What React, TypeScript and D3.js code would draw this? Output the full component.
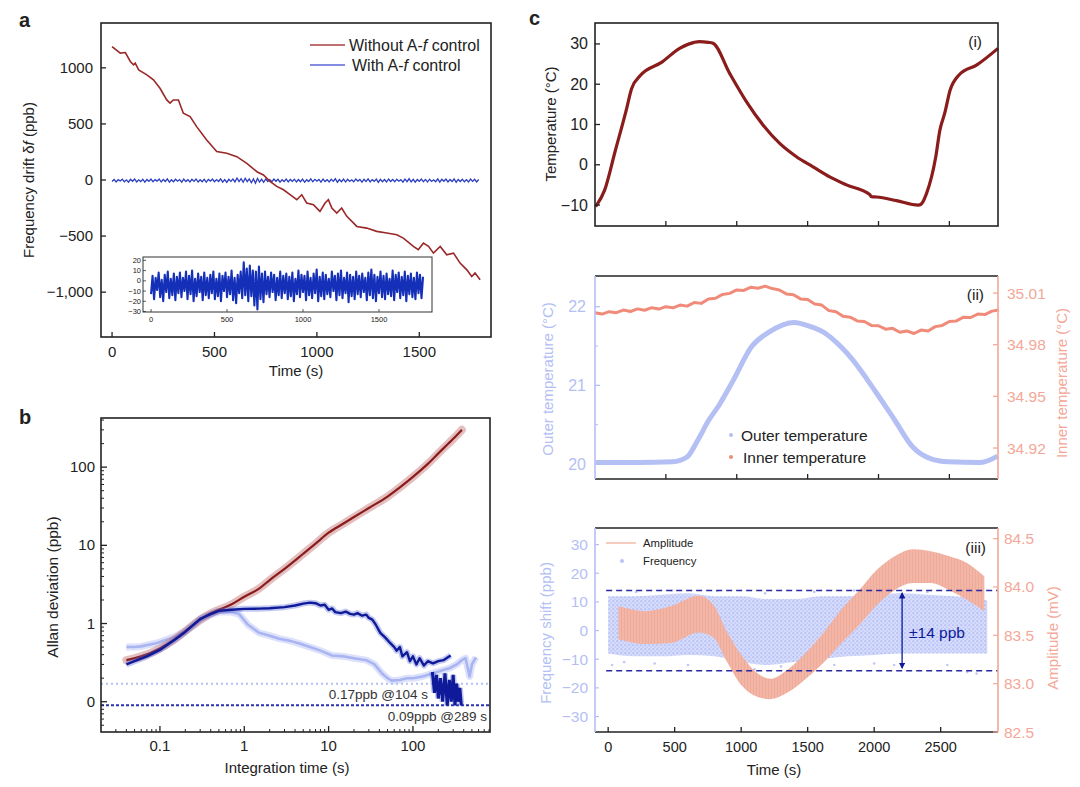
import * as d3 from "d3";

const FONT = "'Liberation Sans', Arial, Helvetica, sans-serif";
const INK = "#222";
const DARK_RED = "#8b1c1c";
const DARK_BLUE = "#0e1a99";
const LIGHT_BLUE = "#b4bff4";
const SALMON = "#f3a898";

// ---- a: frequency drift ----
const driftTime = [0, 40, 65, 89, 105, 113, 130, 170, 202, 234, 267, 283, 299, 324, 348, 381, 413, 462, 511, 560, 609, 658, 707, 739, 771, 804, 837, 869, 902, 926, 950, 983, 1015, 1040, 1056, 1073, 1097, 1121, 1146, 1195, 1243, 1292, 1341, 1390, 1422, 1471, 1495, 1520, 1545, 1569, 1602, 1634, 1667, 1699, 1732, 1756, 1772, 1797];
const driftWithout = [1190, 1131, 1137, 1057, 1027, 1042, 982, 938, 893, 818, 714, 685, 714, 714, 595, 565, 476, 357, 253, 238, 208, 149, 74, 45, -12, -57, -87, -131, -176, -131, -205, -220, -280, -205, -176, -250, -295, -250, -324, -414, -429, -458, -473, -488, -518, -592, -622, -563, -592, -652, -592, -667, -652, -741, -801, -860, -830, -890];
const withTime = d3.range(0, 1800, 10);
const driftWith = [
  -13, 5, -18, 3, -9, 8, -16, 1, -20, 6,
  -11, 9, -17, 2, -14, 7, -19, 4, -12, 8,
  -16, 3, -10, 9, -18, 5, -13, 10, -20, 2,
  -15, 7, -11, 4, -19, 8, -14, 3, -17, 6,
  -12, 9, -18, 2, -15, 7, -20, 5, -10, 8,
  -16, 4, -13, 10, -19, 3, -22, 6, -12, 9,
  -17, 18, -14, 12, -20, 15, -15, 10, -24, 9,
  -28, 14, -18, 7, -21, 9, -13, 4, -16, 8,
  -11, 6, -19, 3, -14, 9, -17, 5, -12, 7,
  -18, 4, -15, 8, -20, 2, -13, 10, -16, 6,
  -11, 5, -19, 9, -14, 3, -17, 7, -12, 11,
  -20, 4, -15, 8, -18, 6, -13, 2, -16, 9,
  -10, 5, -19, 7, -14, 10, -17, 3, -12, 8,
  -21, 6, -15, 4, -18, 9, -13, 5, -16, 7,
  -11, 3, -19, 8, -14, 11, -17, 6, -20, 4,
  -12, 9, -16, 5, -18, 7, -13, 2, -15, 10,
  -19, 6, -11, 8, -17, 4, -14, 9, -20, 5,
  -13, 7, -16, 3, -18, 8, -12, 6, -17, 4,
];
const aYTicks = [1000, 500, 0, -500, -1000];
const aYLabels = ["1000", "500", "0", "\u2212500", "\u22121,000"];
const aXTicks = [0, 500, 1000, 1500];
const insetYTicks = [20, 10, 0, -10, -20, -30];
const insetYLabels = ["20", "10", "0", "\u221210", "\u221220", "\u221230"];
const insetXTicks = [0, 500, 1000, 1500];

// ---- b: Allan deviation ----
const tauRed = [0.04, 0.06, 0.1, 0.15, 0.2, 0.3, 0.4, 0.5, 0.7, 1, 1.5, 2, 3, 5, 7, 10, 15, 20, 30, 50, 70, 100, 150, 200, 300, 380];
const adevRed = [0.34, 0.38, 0.48, 0.63, 0.8, 1.12, 1.35, 1.5, 1.75, 2.2, 2.8, 3.6, 5, 7.8, 10.5, 14.5, 19, 23, 30, 42, 55, 75, 110, 150, 230, 300];
const tauDark = [0.04, 0.05, 0.07, 0.1, 0.15, 0.2, 0.3, 0.4, 0.5, 0.7, 1, 1.5, 2, 3, 4, 5, 6, 7, 8, 9, 10, 11, 12, 14, 16, 18, 20, 22, 25, 28, 30, 33, 36, 41, 47, 54, 60, 64, 70, 75, 85, 92, 100, 110, 120, 135, 150, 173, 200, 230, 260, 280];
const adevDark = [0.3, 0.33, 0.38, 0.46, 0.62, 0.78, 1.15, 1.32, 1.45, 1.5, 1.54, 1.55, 1.57, 1.62, 1.7, 1.8, 1.85, 1.82, 1.7, 1.74, 1.5, 1.56, 1.4, 1.36, 1.42, 1.33, 1.3, 1.36, 1.26, 1.3, 1.18, 1.12, 0.98, 0.76, 0.66, 0.56, 0.5, 0.45, 0.5, 0.38, 0.43, 0.33, 0.38, 0.3, 0.36, 0.29, 0.33, 0.31, 0.33, 0.34, 0.37, 0.39];
const tauDrop = [170, 180, 190, 200, 212, 225, 240, 255, 270, 285, 300, 315, 330, 345, 360, 375];
const adevDrop = [0.24, 0.13, 0.22, 0.11, 0.2, 0.1, 0.23, 0.09, 0.19, 0.1, 0.22, 0.09, 0.17, 0.1, 0.15, 0.09];
const tauLight = [0.04, 0.05, 0.06, 0.076, 0.09, 0.1, 0.15, 0.2, 0.3, 0.4, 0.5, 0.7, 0.87, 1.1, 1.5, 2, 2.6, 3.5, 4.6, 6, 8, 11, 15, 20, 28, 35, 43, 50, 56, 70, 85, 100, 130, 170, 220, 275, 330, 380, 420, 450, 470, 500, 560];
const adevLight = [0.5, 0.5, 0.51, 0.54, 0.56, 0.58, 0.68, 0.8, 1.08, 1.3, 1.4, 1.4, 1.32, 0.97, 0.76, 0.7, 0.64, 0.6, 0.55, 0.5, 0.45, 0.39, 0.38, 0.36, 0.34, 0.3, 0.23, 0.2, 0.186, 0.19, 0.2, 0.2, 0.21, 0.23, 0.25, 0.27, 0.3, 0.34, 0.36, 0.26, 0.21, 0.3, 0.37];
const bMajor = [0.1, 1, 10, 100];
const bXLabels = ["0.1", "1", "10", "100"];
const bYLabels = ["0", "1", "10", "100"];

// ---- c(i): chamber temperature ----
const tempTime = [5, 68, 144, 220, 258, 321, 472, 597, 700, 738, 800, 832, 950, 1068, 1185, 1303, 1421, 1538, 1656, 1774, 1938, 1950, 1986, 2127, 2280, 2300, 2339, 2404, 2433, 2467, 2505, 2568, 2694, 2843];
const tempVal = [-10.4, -6.3, 3.6, 13.5, 18.9, 22.2, 25.5, 28.9, 30.4, 30.6, 30.4, 30.2, 22.7, 15.7, 9.9, 5.3, 2.0, -0.5, -3.0, -5.0, -7.4, -7.9, -8.0, -8.9, -10.0, -9.8, -7.1, 2, 8.6, 12.8, 18.5, 22.3, 24.8, 28.9];
const c1Ticks = [30, 20, 10, 0, -10];
const c1Labels = ["30", "20", "10", "0", "\u221210"];
const cXTicks = [500, 1000, 1500, 2000, 2500];

// ---- c(ii): outer / inner temperature ----
const outerTime = [5, 300, 548, 649, 724, 800, 876, 977, 1104, 1230, 1407, 1500, 1609, 1735, 1811, 1987, 2114, 2240, 2366, 2492, 2720, 2840];
const outerVal = [20.02, 20.02, 20.03, 20.09, 20.3, 20.55, 20.75, 21.07, 21.49, 21.68, 21.8, 21.76, 21.68, 21.49, 21.34, 20.9, 20.56, 20.22, 20.07, 20.03, 20.02, 20.1];
const innerTime = d3.range(0, 2851, 50);
const innerVal = [
  34.9985, 34.9978, 34.9992, 34.9986, 35.0001, 34.9993, 35.0008, 35.0, 35.0015, 35.0007,
  35.0021, 35.0014, 35.003, 35.0024, 35.0045, 35.004, 35.0065, 35.007, 35.0092, 35.0098,
  35.0118, 35.0115, 35.0134, 35.0128, 35.014, 35.0126, 35.0118, 35.0095, 35.009, 35.0066,
  35.0062, 35.0036, 35.003, 34.9998, 34.9992, 34.9965, 34.996, 34.9938, 34.9935, 34.9912,
  34.991, 34.989, 34.9895, 34.9872, 34.988, 34.9865, 34.9885, 34.988, 34.9905, 34.9912,
  34.9935, 34.9938, 34.996, 34.9958, 34.9978, 34.9975, 34.9995, 35.0002,
];
const outerTicks = [20, 21, 22];
const outerMinor = [20.5, 21.5];
const innerTicks = [34.92, 34.95, 34.98, 35.01];

// ---- c(iii): frequency shift / amplitude ----
const freqTime = [0, 200, 400, 600, 800, 1000, 1200, 1400, 1600, 1800, 2000, 2200, 2400, 2600, 2800, 2850];
const freqLo = [-8, -9, -9, -8.5, -9, -11, -12, -11, -10, -9, -8.5, -8, -8, -8, -8, -8];
const freqHi = [12, 12, 12.5, 13, 12, 12, 11, 11, 12, 12, 12.5, 13, 12.5, 12, 11, 10.5];
const freqOutT = [30, 120, 210, 350, 480, 600, 820, 950, 1100, 1180, 1300, 1450, 1550, 1700, 1850, 2000, 2150, 2400, 2550, 2700, 2770];
const freqOutV = [-12, -11, 13.5, -11.5, 14, -12, 13.8, -13, -13.5, 13, -12.5, -13, 13.5, -12, 14, -11.5, -12, 13.5, -12, -14.5, -15];
const ampTime = [78, 279, 467, 682, 789, 896, 1004, 1111, 1218, 1352, 1487, 1621, 1755, 1889, 2023, 2157, 2292, 2425, 2560, 2694, 2828];
const ampLo = [83.46, 83.41, 83.42, 83.53, 83.48, 83.22, 82.98, 82.87, 82.84, 82.91, 83.05, 83.22, 83.42, 83.61, 83.82, 83.97, 84.04, 84.04, 83.97, 83.87, 83.75];
const ampHi = [83.8, 83.75, 83.8, 83.91, 83.82, 83.53, 83.29, 83.12, 83.05, 83.15, 83.32, 83.53, 83.77, 83.97, 84.18, 84.32, 84.39, 84.37, 84.32, 84.25, 84.11];
const freqTicks = [30, 20, 10, 0, -10, -20, -30];
const freqLabels = ["30", "20", "10", "0", "\u221210", "\u221220", "\u221230"];
const ampTicks = [82.5, 83.0, 83.5, 84.0, 84.5];
const c3XTicks = [0, 500, 1000, 1500, 2000, 2500];
const freqBound = 14;

type Scale = (v: number) => number;

function linePath(xs: number[], ys: number[], sx: Scale, sy: Scale, curve: d3.CurveFactory = d3.curveLinear) {
  return (
    d3
      .line<number>()
      .x((i) => sx(xs[i]))
      .y((i) => sy(ys[i]))
      .curve(curve)(xs.map((_, i) => i)) ?? ""
  );
}

function bandPath(xs: number[], lo: number[], hi: number[], sx: Scale, sy: Scale) {
  return (
    d3
      .area<number>()
      .x((i) => sx(xs[i]))
      .y0((i) => sy(lo[i]))
      .y1((i) => sy(hi[i]))
      .curve(d3.curveMonotoneX)(xs.map((_, i) => i)) ?? ""
  );
}

function logMinor(lo: number, hi: number) {
  const out: number[] = [];
  for (let e = -3; e <= 3; e++) {
    for (let m = 2; m <= 9; m++) {
      const v = m * Math.pow(10, e);
      if (v > lo && v < hi) out.push(v);
    }
  }
  return out;
}

export default function App() {
  // panel a
  const xA = d3.scaleLinear().domain([-54, 1850]).range([101, 491]);
  const yA = d3.scaleLinear().domain([-1400, 1400]).range([337, 23]);
  const xI = d3.scaleLinear().domain([-53, 1849]).range([143, 432]);
  const yI = d3.scaleLinear().domain([-30.5, 23.3]).range([312, 257]);
  // panel b
  const xB = d3.scaleLog().domain([0.02, 820]).range([101, 490]);
  const yB = d3.scaleLog().domain([0.041, 425]).range([732, 418]);
  // panel c
  const cL = 595;
  const cR = 998;
  const xC = d3.scaleLinear().domain([0, 2843]).range([cL, cR]);
  const yC1 = d3.scaleLinear().domain([-15.2, 35.2]).range([226, 23]);
  const yC2L = d3.scaleLinear().domain([19.81, 22.39]).range([479, 276]);
  const yC2R = d3.scaleLinear().domain([34.902, 35.0199]).range([479, 276]);
  const xC3 = d3.scaleLinear().domain([-99, 2931]).range([cL, cR]);
  const yC3L = d3.scaleLinear().domain([-35.4, 35.8]).range([732, 528]);
  const yC3R = d3.scaleLinear().domain([82.5, 84.61]).range([732, 528]);

  const bXMinor = logMinor(0.02, 820);
  const bYMinor = logMinor(0.041, 425);

  const [a0, a1] = xA.range();
  const [aB, aT] = yA.range();
  const [b0, b1] = xB.range();
  const [bB, bT] = yB.range();

  return (
    <svg
      width={1080}
      height={787}
      style={{ position: "absolute", left: 0, top: 0, background: "#fff" }}
      fontFamily={FONT}
      fill={INK}
    >
      <defs>
        <marker id="arrowHead" viewBox="0 0 10 10" refX="8" refY="5" markerWidth="5" markerHeight="5" orient="auto-start-reverse">
          <path d="M0,0 L10,5 L0,10 z" fill={DARK_BLUE} />
        </marker>
        <clipPath id="clipB">
          <rect x={b0} y={bT} width={b1 - b0} height={bB - bT} />
        </clipPath>
        <pattern id="freqDots" width="4" height="4" patternUnits="userSpaceOnUse">
          <rect width="4" height="4" fill="#d6dcfb" />
          <circle cx="1.2" cy="1.2" r="1.1" fill="#b9c2f6" />
          <circle cx="3.2" cy="3.2" r="0.9" fill="#c3cbf8" />
        </pattern>
        <pattern id="ampStripes" width="3" height="8" patternUnits="userSpaceOnUse">
          <rect width="3" height="8" fill="#f3b5a6" />
          <rect width="1" height="8" fill="#efab9a" />
        </pattern>
      </defs>

      {/* ================= panel a ================= */}
      <text x={19} y={27} fontSize={20} fontWeight="bold">a</text>
      <path d={linePath(withTime, driftWith, xA, yA)} fill="none" stroke="#2a3cc0" strokeWidth={1.3} />
      <path d={linePath(driftTime, driftWithout, xA, yA)} fill="none" stroke="#9a2828" strokeWidth={1.6} />
      <rect x={a0} y={aT} width={a1 - a0} height={aB - aT} fill="none" stroke={INK} strokeWidth={1.6} />
      {aYTicks.map((v, i) => (
        <g key={v}>
          <line x1={a0} x2={a0 + 5} y1={yA(v)} y2={yA(v)} stroke={INK} strokeWidth={1.3} />
          <text x={93} y={yA(v) + 5} textAnchor="end" fontSize={15}>{aYLabels[i]}</text>
        </g>
      ))}
      {aXTicks.map((v) => (
        <g key={v}>
          <line x1={xA(v)} x2={xA(v)} y1={aB} y2={aB - 5} stroke={INK} strokeWidth={1.3} />
          <text x={xA(v)} y={357} textAnchor="middle" fontSize={15}>{v}</text>
        </g>
      ))}
      <text x={296} y={376} textAnchor="middle" fontSize={15}>Time (s)</text>
      <text transform="translate(34,180) rotate(-90)" textAnchor="middle" fontSize={15}>
        Frequency drift δ<tspan fontStyle="italic">f</tspan> (ppb)
      </text>
      {/* legend */}
      <line x1={310} x2={345} y1={45} y2={45} stroke="#a84040" strokeWidth={1.4} />
      <text x={349} y={51} fontSize={16}>Without A-<tspan fontStyle="italic">f</tspan> control</text>
      <line x1={310} x2={345} y1={65} y2={65} stroke="#5a66d8" strokeWidth={1.4} />
      <text x={352} y={71} fontSize={16}>With A-<tspan fontStyle="italic">f</tspan> control</text>
      {/* inset */}
      <rect x={143} y={257} width={289} height={55} fill="#fff" stroke="#333" strokeWidth={1} />
      <path d={linePath(withTime, driftWith, xI, yI)} fill="none" stroke="#1530b8" strokeWidth={2.1} strokeLinejoin="round" />
      {insetYTicks.map((v, i) => (
        <g key={v}>
          <line x1={143} x2={146} y1={yI(v)} y2={yI(v)} stroke="#333" strokeWidth={0.8} />
          <text x={141} y={yI(v) + 2.5} textAnchor="end" fontSize={7.5}>{insetYLabels[i]}</text>
        </g>
      ))}
      {insetXTicks.map((v) => (
        <g key={v}>
          <line x1={xI(v)} x2={xI(v)} y1={312} y2={309} stroke="#333" strokeWidth={0.8} />
          <text x={xI(v)} y={322} textAnchor="middle" fontSize={7.5}>{v}</text>
        </g>
      ))}

      {/* ================= panel b ================= */}
      <text x={19} y={424} fontSize={20} fontWeight="bold">b</text>
      <g clipPath="url(#clipB)">
        <line x1={b0} x2={b1} y1={yB(0.17)} y2={yB(0.17)} stroke={LIGHT_BLUE} strokeWidth={2} strokeDasharray="2,3" />
        <line x1={b0} x2={b1} y1={yB(0.09)} y2={yB(0.09)} stroke="#2a33b0" strokeWidth={2} strokeDasharray="3,2" />
        <path d={linePath(tauLight, adevLight, xB, yB)} fill="none" stroke={LIGHT_BLUE} strokeOpacity={0.45} strokeWidth={7} strokeLinejoin="round" />
        <path d={linePath(tauLight, adevLight, xB, yB)} fill="none" stroke="#a9b5f2" strokeWidth={2.6} strokeLinejoin="round" />
        <path d={linePath(tauRed, adevRed, xB, yB, d3.curveMonotoneX)} fill="none" stroke="#c98080" strokeOpacity={0.5} strokeWidth={8} strokeLinecap="round" />
        <path d={linePath(tauRed, adevRed, xB, yB, d3.curveMonotoneX)} fill="none" stroke={DARK_RED} strokeWidth={2.2} />
        <path d={linePath(tauDark, adevDark, xB, yB)} fill="none" stroke="#5060d0" strokeOpacity={0.35} strokeWidth={6} strokeLinejoin="round" />
        <path d={linePath(tauDark, adevDark, xB, yB)} fill="none" stroke={DARK_BLUE} strokeWidth={2.4} strokeLinejoin="round" />
        <path d={linePath(tauDrop, adevDrop, xB, yB)} fill="none" stroke="#5060d0" strokeOpacity={0.35} strokeWidth={6} />
        <path d={linePath(tauDrop, adevDrop, xB, yB)} fill="none" stroke={DARK_BLUE} strokeWidth={3} />
      </g>
      <text x={428} y={699} textAnchor="end" fontSize={13.5} fill="#333">0.17ppb @104 s</text>
      <text x={487} y={721} textAnchor="end" fontSize={13.5} fill="#333">0.09ppb @289 s</text>
      <rect x={b0} y={bT} width={b1 - b0} height={bB - bT} fill="none" stroke={INK} strokeWidth={1.6} />
      {bXMinor.map((v) => (
        <line key={"bxm" + v} x1={xB(v)} x2={xB(v)} y1={bB} y2={bB - 3} stroke={INK} strokeWidth={1} />
      ))}
      {bYMinor.map((v) => (
        <line key={"bym" + v} x1={b0} x2={b0 + 3} y1={yB(v)} y2={yB(v)} stroke={INK} strokeWidth={1} />
      ))}
      {bMajor.map((v, i) => (
        <g key={"bM" + v}>
          <line x1={xB(v)} x2={xB(v)} y1={bB} y2={bB - 6} stroke={INK} strokeWidth={1.3} />
          <text x={xB(v)} y={751} textAnchor="middle" fontSize={15}>{bXLabels[i]}</text>
          <line x1={b0} x2={b0 + 6} y1={yB(v)} y2={yB(v)} stroke={INK} strokeWidth={1.3} />
          <text x={95} y={yB(v) + 5} textAnchor="end" fontSize={15}>{bYLabels[i]}</text>
        </g>
      ))}
      <text x={287} y={773} textAnchor="middle" fontSize={15}>Integration time (s)</text>
      <text transform="translate(58,587) rotate(-90)" textAnchor="middle" fontSize={15.5}>Allan deviation (ppb)</text>

      {/* ================= panel c(i) ================= */}
      <text x={529} y={25} fontSize={20} fontWeight="bold">c</text>
      <path d={linePath(tempTime, tempVal, xC, yC1, d3.curveMonotoneX)} fill="none" stroke={DARK_RED} strokeWidth={3.2} strokeLinejoin="round" />
      <rect x={cL} y={23} width={cR - cL} height={203} fill="none" stroke={INK} strokeWidth={1.6} />
      {c1Ticks.map((v, i) => (
        <g key={"c1" + v}>
          <line x1={cL} x2={cL + 5} y1={yC1(v)} y2={yC1(v)} stroke={INK} strokeWidth={1.3} />
          <text x={588} y={yC1(v) + 5.5} textAnchor="end" fontSize={16}>{c1Labels[i]}</text>
        </g>
      ))}
      {cXTicks.map((v) => (
        <line key={"c1x" + v} x1={xC(v)} x2={xC(v)} y1={226} y2={221} stroke={INK} strokeWidth={1.3} />
      ))}
      <text x={982} y={47} textAnchor="end" fontSize={15.5}>(i)</text>
      <text transform="translate(556,124) rotate(-90)" textAnchor="middle" fontSize={15}>Temperature (°C)</text>

      {/* ================= panel c(ii) ================= */}
      <path d={linePath(outerTime, outerVal, xC, yC2L, d3.curveMonotoneX)} fill="none" stroke={LIGHT_BLUE} strokeWidth={5} />
      <path d={linePath(innerTime, innerVal, xC, yC2R)} fill="none" stroke="#f08b7a" strokeWidth={3} strokeLinejoin="round" />
      <line x1={cL} x2={cR} y1={276} y2={276} stroke={INK} strokeWidth={1.6} />
      <line x1={cL} x2={cR} y1={479} y2={479} stroke={INK} strokeWidth={1.6} />
      <line x1={cL} x2={cL} y1={276} y2={479} stroke={LIGHT_BLUE} strokeWidth={1.6} />
      <line x1={cR} x2={cR} y1={276} y2={479} stroke={SALMON} strokeWidth={1.6} />
      {outerTicks.map((v) => (
        <g key={"c2l" + v}>
          <line x1={cL} x2={cL + 5} y1={yC2L(v)} y2={yC2L(v)} stroke={LIGHT_BLUE} strokeWidth={1.3} />
          <text x={586} y={yC2L(v) + 5.5} textAnchor="end" fontSize={16} fill={LIGHT_BLUE}>{v}</text>
        </g>
      ))}
      {outerMinor.map((v) => (
        <line key={"c2m" + v} x1={cL} x2={cL + 3} y1={yC2L(v)} y2={yC2L(v)} stroke={LIGHT_BLUE} strokeWidth={1} />
      ))}
      {innerTicks.map((v) => (
        <g key={"c2r" + v}>
          <line x1={cR} x2={cR - 5} y1={yC2R(v)} y2={yC2R(v)} stroke={SALMON} strokeWidth={1.3} />
          <text x={1007} y={yC2R(v) + 5.5} fontSize={15.5} fill={SALMON}>{v.toFixed(2)}</text>
        </g>
      ))}
      {cXTicks.map((v) => (
        <line key={"c2x" + v} x1={xC(v)} x2={xC(v)} y1={479} y2={474} stroke={INK} strokeWidth={1.3} />
      ))}
      <text x={984} y={300} textAnchor="end" fontSize={15.5}>(ii)</text>
      <circle cx={731} cy={435} r={2} fill={LIGHT_BLUE} />
      <text x={741} y={440.5} fontSize={15.5}>Outer temperature</text>
      <circle cx={731} cy={457} r={2} fill="#f08b7a" />
      <text x={743} y={462.5} fontSize={15.5}>Inner temperature</text>
      <text transform="translate(553,379) rotate(-90)" textAnchor="middle" fontSize={15} fill={LIGHT_BLUE}>Outer temperature (°C)</text>
      <text transform="translate(1067,383) rotate(-90)" textAnchor="middle" fontSize={15} fill={SALMON}>Inner temperature (°C)</text>

      {/* ================= panel c(iii) ================= */}
      <path d={bandPath(freqTime, freqLo, freqHi, xC3, yC3L)} fill="url(#freqDots)" />
      {freqOutT.map((t, i) => (
        <circle key={"fo" + i} cx={xC3(t)} cy={yC3L(freqOutV[i])} r={1.3} fill="#c0c8f7" />
      ))}
      <path d={bandPath(ampTime, ampLo, ampHi, xC3, yC3R)} fill="url(#ampStripes)" />
      <line x1={xC3(-15)} x2={cR} y1={yC3L(freqBound)} y2={yC3L(freqBound)} stroke="#2a2aa0" strokeWidth={1.4} strokeDasharray="6,4" />
      <line x1={xC3(-15)} x2={cR} y1={yC3L(-freqBound)} y2={yC3L(-freqBound)} stroke="#2a2aa0" strokeWidth={1.4} strokeDasharray="6,4" />
      <line x1={xC3(2210)} x2={xC3(2210)} y1={yC3L(freqBound - 1)} y2={yC3L(-freqBound + 1)} stroke={DARK_BLUE} strokeWidth={1.3} markerStart="url(#arrowHead)" markerEnd="url(#arrowHead)" />
      <text x={909} y={638} fontSize={15.5} fill={DARK_BLUE}>±14 ppb</text>
      <line x1={cL} x2={cR} y1={528} y2={528} stroke={INK} strokeWidth={1.6} />
      <line x1={cL} x2={cR} y1={732} y2={732} stroke={INK} strokeWidth={1.6} />
      <line x1={cL} x2={cL} y1={528} y2={732} stroke={LIGHT_BLUE} strokeWidth={1.6} />
      <line x1={cR} x2={cR} y1={528} y2={732} stroke={SALMON} strokeWidth={1.6} />
      {freqTicks.map((v, i) => (
        <g key={"c3l" + v}>
          <line x1={cL} x2={cL + 4} y1={yC3L(v)} y2={yC3L(v)} stroke={LIGHT_BLUE} strokeWidth={1.2} />
          <text x={588} y={yC3L(v) + 5.5} textAnchor="end" fontSize={15.5} fill={LIGHT_BLUE}>{freqLabels[i]}</text>
        </g>
      ))}
      {ampTicks.map((v) => (
        <g key={"c3r" + v}>
          <line x1={cR} x2={cR - 5} y1={yC3R(v)} y2={yC3R(v)} stroke={SALMON} strokeWidth={1.2} />
          <text x={1004} y={yC3R(v) + 5.5} fontSize={15.5} fill={SALMON}>{v.toFixed(1)}</text>
        </g>
      ))}
      {c3XTicks.map((v) => (
        <g key={"c3x" + v}>
          <line x1={xC3(v)} x2={xC3(v)} y1={732} y2={727} stroke={INK} strokeWidth={1.3} />
          <text x={xC3(v)} y={752} textAnchor="middle" fontSize={14.5}>{v}</text>
        </g>
      ))}
      <text x={986} y={553} textAnchor="end" fontSize={15.5}>(iii)</text>
      <line x1={606} x2={636} y1={543} y2={543} stroke="#f4a898" strokeWidth={1.2} />
      <text x={643} y={547} fontSize={11.3}>Amplitude</text>
      <circle cx={622} cy={561} r={2} fill="#b9c2f5" />
      <text x={643} y={565} fontSize={11.3}>Frequency</text>
      <text x={774} y={775} textAnchor="middle" fontSize={15}>Time (s)</text>
      <text transform="translate(551,633) rotate(-90)" textAnchor="middle" fontSize={15} fill={LIGHT_BLUE}>Frequency shift (ppb)</text>
      <text transform="translate(1058,638) rotate(-90)" textAnchor="middle" fontSize={15} fill={SALMON}>Amplitude (mV)</text>
    </svg>
  );
}
